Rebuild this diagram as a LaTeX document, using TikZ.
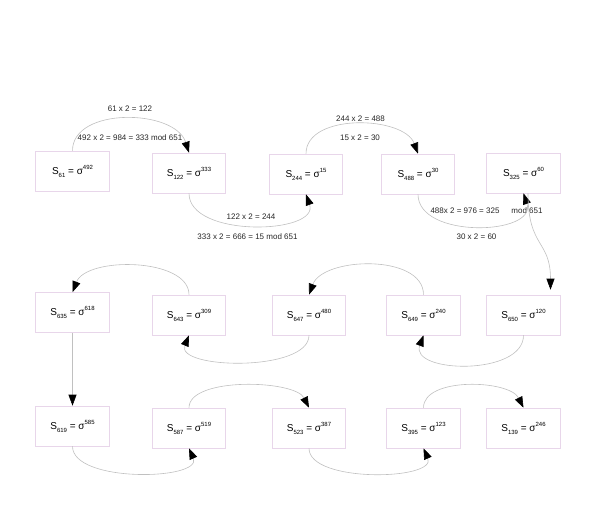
\documentclass[tikz,border=0pt]{standalone}
\usepackage{fontspec}
\setmainfont{Liberation Sans}
\usetikzlibrary{arrows.meta,calc}
\definecolor{boxc}{RGB}{232,214,234}
\definecolor{edgec}{RGB}{192,192,192}
\newcommand{\lowsub}[1]{\raisebox{-3pt}{\fontsize{6}{6}\selectfont #1}}
\newcommand{\highsup}[1]{\raisebox{5pt}{\fontsize{6}{6}\selectfont #1}}
\newcommand{\st}[2]{S\lowsub{#1} = σ\highsup{#2}}
\tikzset{
  state/.style={draw=boxc, line width=0.6pt, minimum width=73.5pt, minimum height=40pt, inner sep=0pt, font=\fontsize{10}{12}\selectfont},
  conn/.style={draw=edgec, line width=0.6pt, -{Triangle[length=11pt,width=8pt,black]}},
  lbl/.style={font=\fontsize{8}{9}\selectfont, inner sep=0pt, text=black!85}
}
\begin{document}
\begin{tikzpicture}[x=1pt,y=-1pt]
\useasboundingbox (0,0) rectangle (595,511);
% row 1
\node[state] (n61)  at (72.5,171) {\st{61}{492}};
\node[state] (n122) at (189,173) {\st{122}{333}};
\node[state] (n244) at (306,174) {\st{244}{15}};
\node[state] (n488) at (418,174) {\st{488}{30}};
\node[state] (n325) at (523.5,173) {\st{325}{60}};
% row 2
\node[state] (n635) at (72.5,312.5) {\st{635}{618}};
\node[state] (n643) at (189,315) {\st{643}{309}};
\node[state] (n647) at (309,315) {\st{647}{480}};
\node[state] (n649) at (423.5,315) {\st{649}{240}};
\node[state] (n650) at (523.5,315) {\st{650}{120}};
% row 3
\node[state] (n619) at (72.5,426) {\st{619}{585}};
\node[state] (n587) at (189,428) {\st{587}{519}};
\node[state] (n523) at (309,428) {\st{523}{387}};
\node[state] (n395) at (423.5,428) {\st{395}{123}};
\node[state] (n139) at (523.5,428) {\st{139}{246}};
% labels
\node[lbl] (l1a) at (130,109) {61 x 2 = 122};
\node[lbl] (l1b) at (130,138) {492 x 2 = 984 = 333 mod 651};
\node[lbl] (l2a) at (251,217) {122 x 2 = 244};
\node[lbl] (l2b) at (247.5,237) {333 x 2 = 666 = 15 mod 651};
\node[lbl] (l3a) at (360.5,119) {244 x 2 = 488};
\node[lbl] (l3b) at (360,138) {15 x 2 = 30};
\node[lbl] (l4a) at (465,211) {488x 2 = 976 = 325};
\node[lbl] (l4b) at (527,211) {mod 651};
\node[lbl] (l4c) at (476.5,237) {30 x 2 = 60};
% connectors
\draw[conn] (n61.north) .. controls +(0,-44) and +(-14,-44) .. (n122.north);
\draw[conn] (n122.south) .. controls +(0,45) and +(14,40) .. (n244.south);
\draw[conn] (n244.north) .. controls +(0,-41) and +(-14,-38) .. (n488.north);
\draw[conn] (n488.south) .. controls +(0,45) and +(14,42) .. (n325.south);
\draw[conn] ($(n325.south)+(4.5,0)$) .. controls +(0,55) and +(0,-50) .. ($(n650.north)+(27,-5)$);
\draw[conn] (n650.south) .. controls +(0,41) and +(-14,38) .. (n649.south);
\draw[conn] (n649.north) .. controls +(0,-41) and +(14,-38) .. (n647.north);
\draw[conn] (n647.south) .. controls +(0,37) and +(-14,34) .. (n643.south);
\draw[conn] (n643.north) .. controls +(0,-37) and +(14,-36) .. (n635.north);
\draw[conn] (n635.south) -- (n619.north);
\draw[conn] (n619.south) .. controls +(0,37) and +(14,32) .. (n587.south);
\draw[conn] (n587.north) .. controls +(0,-31) and +(-14,-28) .. (n523.north);
\draw[conn] (n523.south) .. controls +(0,35) and +(14,32) .. (n395.south);
\draw[conn] (n395.north) .. controls +(0,-31) and +(-14,-28) .. (n139.north);
\end{tikzpicture}
\end{document}
